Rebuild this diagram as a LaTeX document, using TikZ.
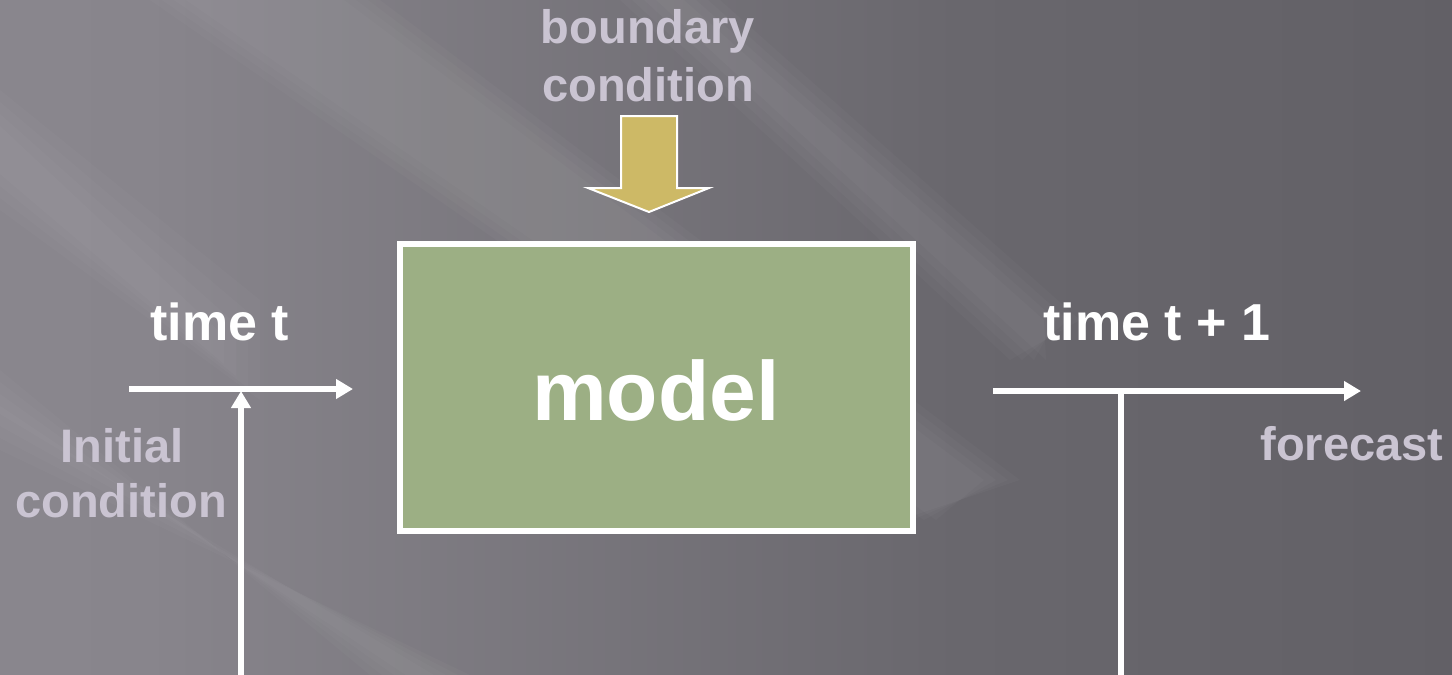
\documentclass[tikz,border=0pt]{standalone}
\usepackage{fontspec}
\setmainfont{Liberation Sans}
\usetikzlibrary{arrows.meta}
\definecolor{bgA}{HTML}{908D94}
\definecolor{bgB}{HTML}{88858C}
\definecolor{bgC}{HTML}{69676D}
\definecolor{bgD}{HTML}{58565C}
\definecolor{lbl}{HTML}{CAC4D2}
\definecolor{modelgreen}{HTML}{9CAF84}
\definecolor{bcgold}{HTML}{CDB966}
\pgfdeclarehorizontalshading{bgshade}{100bp}{color(0bp)=(bgA); color(30bp)=(bgB); color(58bp)=(bgC); color(100bp)=(bgD)}
\tikzset{
  lbltext/.style={text=lbl, font=\bfseries\fontsize{47}{57}\selectfont, align=center, inner sep=0pt},
  timetext/.style={text=white, font=\bfseries\fontsize{52}{60}\selectfont, inner sep=0pt},
  flow/.style={draw=white, line width=5.5pt},
  flowarrow/.style={flow, -{Triangle[length=17pt,width=19pt]}},
  streak/.style={fill=white, draw=none, opacity=0.022},
}
\begin{document}
\begin{tikzpicture}[x=1pt,y=-1pt]
\useasboundingbox (0,0) rectangle (1452,675);
% background
\shade[shading=bgshade, shading angle=0] (0,0) rectangle (1452,675);
\begin{scope}
\clip (0,0) rectangle (1452,675);
% soft diagonal streaks (stacked for soft edges)
\foreach \w in {0,12,24,36} {
  \fill[streak] ({150+\w},0) -- ({380-\w},0) -- ({1020-\w},480) -- ({900+\w},520) -- cycle;
  \fill[streak] ({620+\w},0) -- ({720-\w},0) -- ({1080-\w},320) -- ({1010+\w},360) -- cycle;
  \fill[streak] (0,{370+\w}) -- (0,{450-\w}) -- ({470-\w},675) -- ({370+\w},675) -- cycle;
  \fill[streak] (0,{90+\w}) -- (0,{210-\w}) -- ({260-\w},{400-\w}) -- ({260-\w},{300+\w}) -- cycle;
}
\end{scope}
% boundary condition
\node[lbltext, anchor=base] (bc1) at (648,43) {boundary};
\node[lbltext, anchor=base] (bc2) at (648,101) {condition};
\coordinate (bctop) at (649,116);
\draw[draw=white, line width=2pt, fill=bcgold]
  (621,116) -- (677,116) -- (677,188) -- (709,188) -- (649,212) -- (588,188) -- (621,188) -- cycle;
% model box
\node[draw=white, line width=6pt, fill=modelgreen, minimum width=513pt, minimum height=287pt, inner sep=0pt] (model) at (656.5,387.5) {};
\node[text=white, font=\bfseries\fontsize{84}{90}\selectfont, anchor=base, inner sep=0pt] (modeltext) at (656,420) {model};
% left side
\node[timetext, anchor=base] (tt) at (220,340) {time t};
\node[lbltext, anchor=base] (ic1) at (122,462) {Initial};
\node[lbltext, anchor=base] (ic2) at (121,517) {condition};
\coordinate (la) at (129,389);
\coordinate (lb) at (353,389);
\coordinate (lv0) at (241,676);
\coordinate (lv1) at (241,391);
\draw[flowarrow] (la) -- (lb);
\draw[flowarrow] (lv0) -- (lv1);
% right side
\node[timetext, anchor=base] (tt1) at (1157,340) {time t + 1};
\node[lbltext, anchor=base] (fc) at (1352,460) {forecast};
\coordinate (ra) at (993,391);
\coordinate (rb) at (1361,391);
\coordinate (rv0) at (1121,391);
\coordinate (rv1) at (1121,676);
\draw[flowarrow] (ra) -- (rb);
\draw[flow] (rv0) -- (rv1);
\end{tikzpicture}
\end{document}
